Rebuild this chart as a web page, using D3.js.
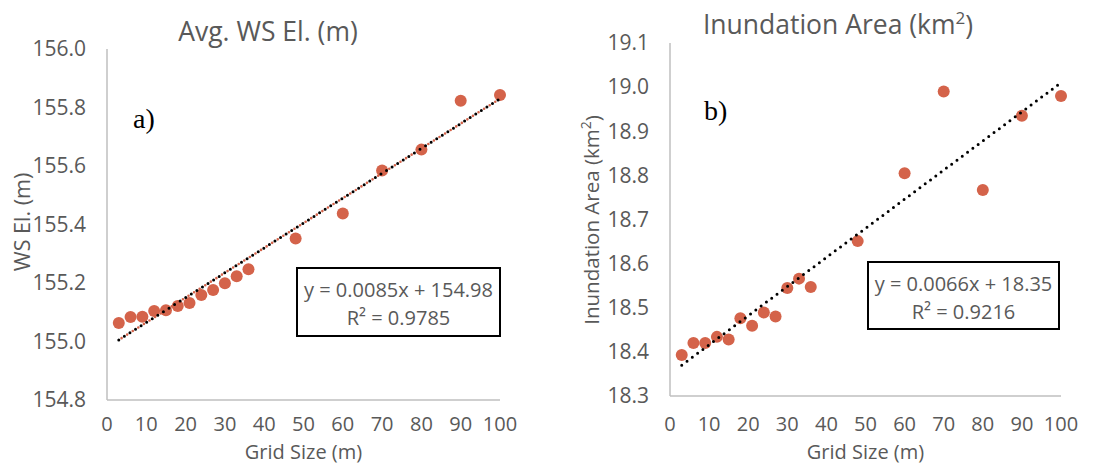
<!DOCTYPE html>
<html><head><meta charset="utf-8">
<script src="https://cdn.jsdelivr.net/npm/d3@7"></script>
<style>body{margin:0;background:#fff}svg{display:block}</style>
</head><body>
<svg id="c" width="1117" height="465"></svg>
<script>
const gridSize = [3,6,9,12,15,18,21,24,27,30,33,36,48,60,70,80,90,100];
const wsEl = [155.063,155.084,155.085,155.104,155.107,155.121,155.132,155.159,155.176,155.199,155.223,155.247,155.352,155.438,155.585,155.656,155.823,155.843];
const inunArea = [18.393,18.42,18.42,18.434,18.428,18.476,18.459,18.489,18.48,18.545,18.566,18.547,18.651,18.805,18.99,18.767,18.935,18.98];
const xTicks = [0,10,20,30,40,50,60,70,80,90,100];
const yTicksA = [154.8,155.0,155.2,155.4,155.6,155.8,156.0];
const yTicksB = [18.3,18.4,18.5,18.6,18.7,18.8,18.9,19.0,19.1];
const trendA = [0.0085,154.98];
const trendB = [0.0066,18.35];
const eqA = ["y = 0.0085x + 154.98","0.9785"];
const eqB = ["y = 0.0066x + 18.35","0.9216"];

const svg = d3.select("#c");
const font = "'Open Sans', sans-serif";
const txt = "#595959";
const dotColor = "#D4634A";

function panel(o){
  const x = d3.scaleLinear().domain([0,100]).range([o.x0,o.x1]);
  const y = d3.scaleLinear().domain([o.yTicks[0],o.yTicks[o.yTicks.length-1]]).range([o.y0,o.y1]);
  const g = svg.append("g");
  g.append("line").attr("x1",x(0)).attr("x2",x(0)).attr("y1",y.range()[1]).attr("y2",y.range()[0]).attr("stroke","#BFBFBF").attr("stroke-width",1.5);
  g.append("line").attr("x1",x(0)).attr("x2",x(100)).attr("y1",y.range()[0]).attr("y2",y.range()[0]).attr("stroke","#BFBFBF").attr("stroke-width",1.5);
  g.selectAll(".yt").data(o.yTicks).join("text").attr("x",x(0)-21).attr("y",d=>y(d)).attr("dy","0.35em")
    .attr("text-anchor","end").attr("font-family",font).attr("font-size",21).attr("fill",txt).text(d=>d.toFixed(1));
  g.selectAll(".xt").data(xTicks).join("text").attr("x",d=>x(d)).attr("y",o.xTickY).attr("dy","0.35em")
    .attr("text-anchor","middle").attr("font-family",font).attr("font-size",20).attr("fill",txt).text(d=>d);
  const tl = [[3,o.trend[0]*3+o.trend[1]],[100,o.trend[0]*100+o.trend[1]]];
  if(o.orange){
    g.append("line").attr("x1",x(tl[0][0])).attr("y1",y(tl[0][1])).attr("x2",x(tl[1][0])).attr("y2",y(tl[1][1]))
      .attr("stroke",dotColor).attr("stroke-width",2.6).attr("stroke-linecap","round").attr("stroke-dasharray","0 6.6").attr("stroke-dashoffset",3.3);
  }
  g.selectAll("circle").data(o.xs.map((d,i)=>[d,o.ys[i]])).join("circle")
    .attr("cx",d=>x(d[0])).attr("cy",d=>y(d[1])).attr("r",6).attr("fill",dotColor);
  g.append("line").attr("x1",x(tl[0][0])).attr("y1",y(tl[0][1])).attr("x2",x(tl[1][0])).attr("y2",y(tl[1][1]))
    .attr("stroke","#000").attr("stroke-width",3).attr("stroke-linecap","round").attr("stroke-dasharray","0 6.6");
  const t = g.append("text").attr("x",o.titleX).attr("y",o.titleY).attr("dy","0.35em").attr("text-anchor","middle")
    .attr("font-family",font).attr("font-size",26.5).attr("fill",txt);
  t.append("tspan").text(o.title[0]);
  if(o.title.length>1){ t.append("tspan").attr("font-size",17).attr("dy","-0.6em").text(o.title[1]); t.append("tspan").attr("dy","0.4em").text(o.title[2]); }
  const yl = g.append("text").attr("transform",`translate(${o.ylabX},${o.ylabY}) rotate(-90)`).attr("dy","0.35em").attr("text-anchor","middle")
    .attr("font-family",font).attr("font-size",o.ylabSize).attr("fill",txt);
  yl.append("tspan").text(o.ylab[0]);
  if(o.ylab.length>1){ yl.append("tspan").attr("font-size",14).attr("dy","-0.6em").text(o.ylab[1]); yl.append("tspan").attr("dy","0.45em").text(o.ylab[2]); }
  g.append("text").attr("x",(x(0)+x(100))/2).attr("y",o.xlabY).attr("dy","0.35em").attr("text-anchor","middle")
    .attr("font-family",font).attr("font-size",20).attr("fill",txt).text("Grid Size (m)");
  g.append("text").attr("x",o.letX).attr("y",o.letY).attr("dy","0.35em").attr("font-family","'Liberation Serif', serif")
    .attr("font-size",28).attr("fill","#000").text(o.letter);
  g.append("rect").attr("x",o.box[0]).attr("y",o.box[1]).attr("width",o.box[2]-o.box[0]).attr("height",o.box[3]-o.box[1])
    .attr("fill","#fff").attr("stroke","#000").attr("stroke-width",2);
  const cx = (o.box[0]+o.box[2])/2;
  g.append("text").attr("x",cx).attr("y",o.box[1]+22).attr("dy","0.35em").attr("text-anchor","middle")
    .attr("font-family",font).attr("font-size",20).attr("fill",txt).text(o.eq[0]);
  g.append("text").attr("x",cx).attr("y",o.box[1]+50).attr("dy","0.35em").attr("text-anchor","middle")
    .attr("font-family",font).attr("font-size",20).attr("fill",txt).text("R² = "+o.eq[1]);
}

panel({x0:107,x1:500,y0:400,y1:49,yTicks:yTicksA,xs:gridSize,ys:wsEl,trend:trendA,orange:true,
  xTickY:424,title:["Avg. WS El. (m)"],titleX:268,titleY:32,ylab:["WS El. (m)"],ylabSize:21.5,ylabX:22,ylabY:222,xlabY:452,
  letter:"a)",letX:133,letY:118,box:[297,268,500,336],eq:eqA});
panel({x0:670,x1:1061,y0:396,y1:43,yTicks:yTicksB,xs:gridSize,ys:inunArea,trend:trendB,orange:false,
  xTickY:424,title:["Inundation Area (km","2",")"],titleX:838,titleY:25,ylab:["Inundation Area (km","2",")"],ylabSize:20.5,ylabX:592,ylabY:220,xlabY:452,
  letter:"b)",letX:704,letY:110,box:[868,262,1059,329],eq:eqB});
</script>
</body></html>
